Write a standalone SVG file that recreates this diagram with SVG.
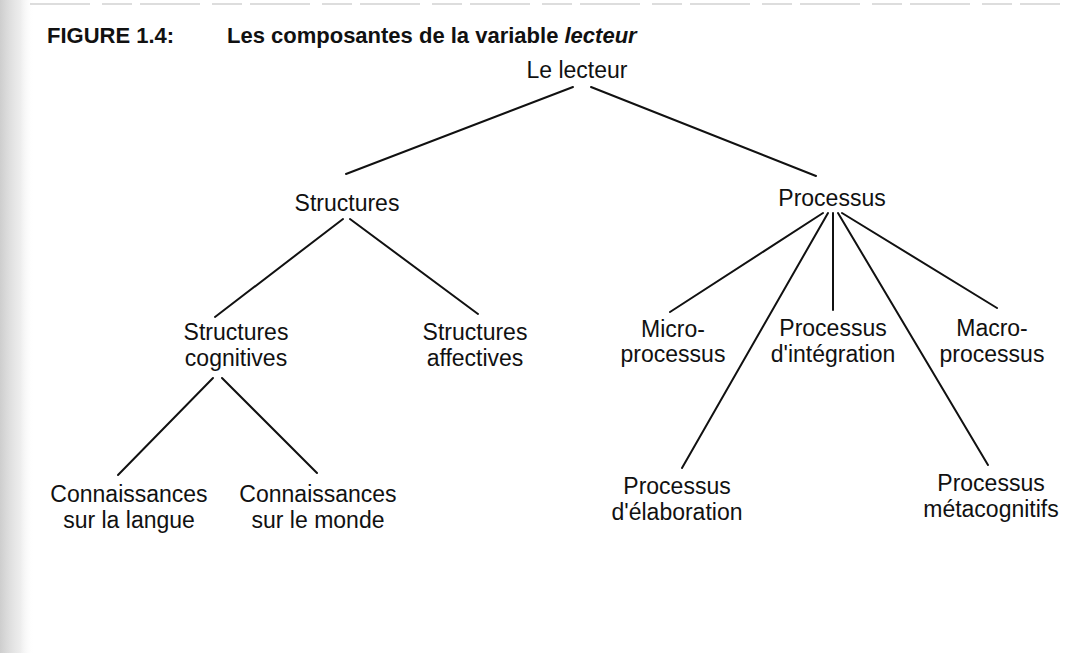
<svg xmlns="http://www.w3.org/2000/svg" width="1066" height="653" viewBox="0 0 1066 653">
  <defs>
    <linearGradient id="edge" x1="0" y1="0" x2="1" y2="0">
      <stop offset="0" stop-color="#c8c8c8" stop-opacity="0.9"/>
      <stop offset="0.6" stop-color="#dcdcdc" stop-opacity="0.5"/>
      <stop offset="1" stop-color="#ffffff" stop-opacity="0"/>
    </linearGradient>
  </defs>
  <style>
    .lbl { font-family: "Liberation Sans", Arial, Helvetica, sans-serif; font-size: 23px; fill: #111; text-anchor: middle; }
    .ttl { font-family: "Liberation Sans", Arial, Helvetica, sans-serif; font-size: 22px; font-weight: bold; fill: #111; }
    .cn { stroke: #111; stroke-width: 2; fill: none; stroke-linecap: round; }
  </style>
  <rect width="1066" height="653" fill="#ffffff"/>
  <rect x="0" y="0" width="34" height="653" fill="url(#edge)"/>
  <line x1="30" y1="4" x2="1060" y2="4" stroke="#bbbbbb" stroke-width="1" stroke-dasharray="60 12 30 8"/>

  <g id="title">
    <text class="ttl" x="47" y="43">FIGURE 1.4:</text>
    <text class="ttl" x="227" y="43">Les composantes de la variable <tspan font-style="italic">lecteur</tspan></text>
  </g>

  <g id="connectors">
    <line class="cn" x1="573" y1="87" x2="346" y2="174"/>
    <line class="cn" x1="591" y1="87" x2="816" y2="176"/>
    <line class="cn" x1="343" y1="219" x2="215" y2="317"/>
    <line class="cn" x1="350" y1="219" x2="478" y2="314"/>
    <line class="cn" x1="213" y1="378" x2="118" y2="475"/>
    <line class="cn" x1="222" y1="378" x2="317" y2="473"/>
    <line class="cn" x1="823" y1="213" x2="670" y2="312"/>
    <line class="cn" x1="828" y1="213" x2="682" y2="468"/>
    <line class="cn" x1="833" y1="213" x2="833" y2="310"/>
    <line class="cn" x1="838" y1="213" x2="988" y2="465"/>
    <line class="cn" x1="842" y1="213" x2="997" y2="308"/>
  </g>

  <g id="n-lecteur"><text class="lbl" x="577" y="78">Le lecteur</text></g>
  <g id="n-structures"><text class="lbl" x="347" y="211">Structures</text></g>
  <g id="n-processus"><text class="lbl" x="832" y="206">Processus</text></g>
  <g id="n-struct-cog"><text class="lbl" x="236" y="340">Structures<tspan x="236" dy="26">cognitives</tspan></text></g>
  <g id="n-struct-aff"><text class="lbl" x="475" y="340">Structures<tspan x="475" dy="26">affectives</tspan></text></g>
  <g id="n-micro"><text class="lbl" x="673" y="337">Micro-<tspan x="673" dy="25">processus</tspan></text></g>
  <g id="n-integration"><text class="lbl" x="833" y="336">Processus<tspan x="833" dy="26">d'intégration</tspan></text></g>
  <g id="n-macro"><text class="lbl" x="992" y="336">Macro-<tspan x="992" dy="26">processus</tspan></text></g>
  <g id="n-langue"><text class="lbl" x="129" y="502">Connaissances<tspan x="129" dy="26">sur la langue</tspan></text></g>
  <g id="n-monde"><text class="lbl" x="318" y="502">Connaissances<tspan x="318" dy="26">sur le monde</tspan></text></g>
  <g id="n-elaboration"><text class="lbl" x="677" y="494">Processus<tspan x="677" dy="26">d'élaboration</tspan></text></g>
  <g id="n-metacog"><text class="lbl" x="991" y="491">Processus<tspan x="991" dy="26">métacognitifs</tspan></text></g>
</svg>
